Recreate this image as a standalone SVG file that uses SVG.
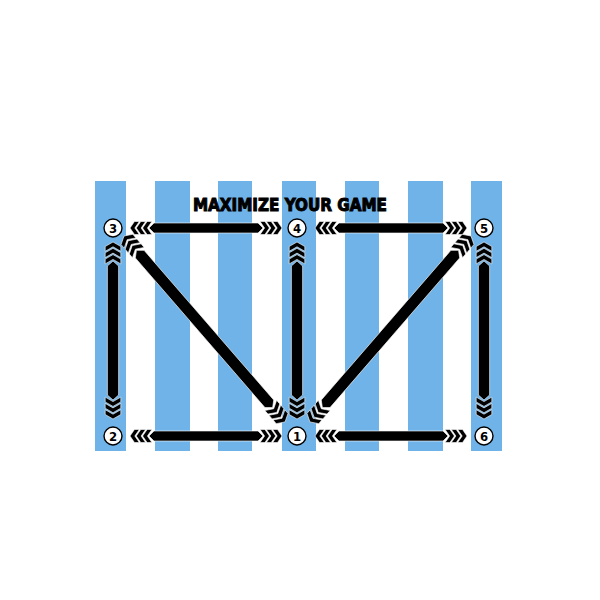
<svg xmlns="http://www.w3.org/2000/svg" xmlns:xlink="http://www.w3.org/1999/xlink" width="600" height="600" viewBox="0 0 600 600">
  <style>
    .stripe { fill: #70b3e8; }
    .blk { fill: #000; stroke: #fff; stroke-width: 0.6; stroke-linejoin: miter; }
    .node circle { fill: #fff; stroke: #000; stroke-width: 1.4; }
    .node text { font-family: "DejaVu Sans Condensed", "DejaVu Sans", "Liberation Sans", sans-serif; font-weight: bold; font-size: 13px; fill: #000; text-anchor: middle; }
    .title { font-family: "DejaVu Sans Condensed", "Liberation Sans Narrow", "Liberation Sans", sans-serif; font-weight: bold; font-size: 18px; fill: #000; stroke: #000; stroke-width: 1; }
  </style>
  <defs>
    <path id="chevH" d="M0,-6.5 L4.8,-6.5 L9.3,0 L4.8,6.5 L0,6.5 L4.5,0 Z"/>
    <path id="chevV" d="M0,-7.8 L4.8,-7.8 L9.3,0 L4.8,7.8 L0,7.8 L4.5,0 Z"/>
    <g id="hh" class="blk">
      <use xlink:href="#chevH" href="#chevH" x="0"/>
      <use xlink:href="#chevH" href="#chevH" x="6.3"/>
      <use xlink:href="#chevH" href="#chevH" x="12.6"/>
    </g>
    <g id="hv" class="blk">
      <use xlink:href="#chevV" href="#chevV" x="0"/>
      <use xlink:href="#chevV" href="#chevV" x="6.3"/>
      <use xlink:href="#chevV" href="#chevV" x="12.6"/>
    </g>
  </defs>
  <rect width="600" height="600" fill="#fff"/>
  <g id="stripes">
    <rect class="stripe" x="95" y="181" width="31" height="270"/>
    <rect class="stripe" x="155" y="181" width="35" height="270"/>
    <rect class="stripe" x="218" y="181" width="34" height="270"/>
    <rect class="stripe" x="282" y="181" width="34" height="270"/>
    <rect class="stripe" x="345" y="181" width="34" height="270"/>
    <rect class="stripe" x="408" y="181" width="35" height="270"/>
    <rect class="stripe" x="471" y="181" width="31" height="270"/>
  </g>
  <text class="title" x="193" y="211" textLength="194" lengthAdjust="spacingAndGlyphs">MAXIMIZE YOUR GAME</text>
  <g id="connectors">
    <!-- 3 - 4 -->
    <g transform="translate(130,228)">
      <use href="#hh" xlink:href="#hh" transform="translate(21.9,0) scale(-1,1)"/>
      <polygon class="blk" points="19,0 24,-5 128,-5 133,0 128,5 24,5"/>
      <use href="#hh" xlink:href="#hh" transform="translate(130.1,0)"/>
    </g>
    <!-- 4 - 5 -->
    <g transform="translate(315,228)">
      <use href="#hh" xlink:href="#hh" transform="translate(21.9,0) scale(-1,1)"/>
      <polygon class="blk" points="19,0 24,-5 128,-5 133,0 128,5 24,5"/>
      <use href="#hh" xlink:href="#hh" transform="translate(130.1,0)"/>
    </g>
    <!-- 2 - 1 -->
    <g transform="translate(130,436)">
      <use href="#hh" xlink:href="#hh" transform="translate(21.9,0) scale(-1,1)"/>
      <polygon class="blk" points="19,0 24,-5 128,-5 133,0 128,5 24,5"/>
      <use href="#hh" xlink:href="#hh" transform="translate(130.1,0)"/>
    </g>
    <!-- 1 - 6 -->
    <g transform="translate(315,436)">
      <use href="#hh" xlink:href="#hh" transform="translate(21.9,0) scale(-1,1)"/>
      <polygon class="blk" points="19,0 24,-5 128,-5 133,0 128,5 24,5"/>
      <use href="#hh" xlink:href="#hh" transform="translate(130.1,0)"/>
    </g>
    <!-- 3 - 2 -->
    <g transform="translate(113,242) rotate(90)">
      <use href="#hv" xlink:href="#hv" transform="translate(21.9,0) scale(-1,1)"/>
      <polygon class="blk" points="19,0 24,-5.6 153,-5.6 158,0 153,5.6 24,5.6"/>
      <use href="#hv" xlink:href="#hv" transform="translate(155.1,0)"/>
    </g>
    <!-- 4 - 1 -->
    <g transform="translate(297,242) rotate(90)">
      <use href="#hv" xlink:href="#hv" transform="translate(21.9,0) scale(-1,1)"/>
      <polygon class="blk" points="19,0 24,-5.6 153,-5.6 158,0 153,5.6 24,5.6"/>
      <use href="#hv" xlink:href="#hv" transform="translate(155.1,0)"/>
    </g>
    <!-- 5 - 6 -->
    <g transform="translate(484,242) rotate(90)">
      <use href="#hv" xlink:href="#hv" transform="translate(21.9,0) scale(-1,1)"/>
      <polygon class="blk" points="19,0 24,-5.6 153,-5.6 158,0 153,5.6 24,5.6"/>
      <use href="#hv" xlink:href="#hv" transform="translate(155.1,0)"/>
    </g>
    <!-- 3 - 1 -->
    <g transform="translate(124,236) rotate(49.1)">
      <use href="#hv" xlink:href="#hv" transform="translate(21.9,0) scale(-1,1)"/>
      <polygon class="blk" points="19,0 24,-5.8 222,-5.8 227,0 222,5.8 24,5.8"/>
      <use href="#hv" xlink:href="#hv" transform="translate(224.1,0)"/>
    </g>
    <!-- 5 - 1 -->
    <g transform="translate(471,236) rotate(130.9)">
      <use href="#hv" xlink:href="#hv" transform="translate(21.9,0) scale(-1,1)"/>
      <polygon class="blk" points="19,0 24,-5.8 222,-5.8 227,0 222,5.8 24,5.8"/>
      <use href="#hv" xlink:href="#hv" transform="translate(224.1,0)"/>
    </g>
  </g>
  <g id="node-3" class="node"><circle cx="113" cy="228" r="9"/><text x="113" y="232.5">3</text></g>
  <g id="node-4" class="node"><circle cx="297" cy="228" r="9"/><text x="297" y="232.5">4</text></g>
  <g id="node-5" class="node"><circle cx="484" cy="228" r="9"/><text x="484" y="232.5">5</text></g>
  <g id="node-2" class="node"><circle cx="113" cy="436" r="9"/><text x="113" y="440.5">2</text></g>
  <g id="node-1" class="node"><circle cx="297" cy="436" r="9"/><text x="297" y="440.5">1</text></g>
  <g id="node-6" class="node"><circle cx="484" cy="436" r="9"/><text x="484" y="440.5">6</text></g>
</svg>
